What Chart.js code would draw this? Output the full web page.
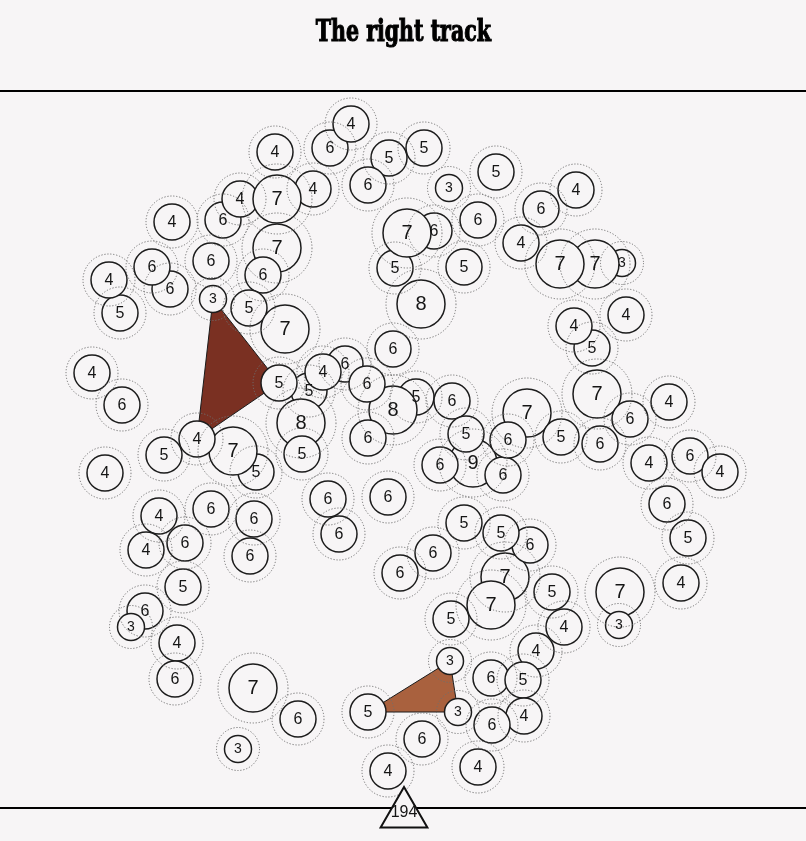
<!DOCTYPE html>
<html><head><meta charset="utf-8">
<script src="https://cdn.jsdelivr.net/npm/chart.js@4"></script>
<style>
html,body{margin:0;padding:0;background:#f7f5f6;}
#wrap{position:relative;width:806px;height:841px;overflow:hidden;}
#c{position:absolute;left:0;top:0;}
#title{position:absolute;left:0;top:17px;width:806px;text-align:center;line-height:29px;}
#t{display:inline-block;font-family:"DejaVu Serif Condensed","DejaVu Serif",serif;font-stretch:condensed;font-weight:bold;font-size:29px;color:#000;-webkit-text-stroke:1.1px #000;transform-origin:50% 50%;white-space:nowrap;}
</style></head><body>
<div id="wrap"><canvas id="c" width="806" height="841"></canvas><div id="title"><span id="t">The right track</span></div></div>
<script>
// ---- data (drawing order: later points sit on top) ----
const pointX = [330,351,275,389,424,368,449,496,576,541,478,313,223,240,277,172,277,211,263,170,152,120,109,213,249,285,434,395,407,464,521,622,595,560,421,626,592,574,393,92,122,309,345,323,279,416,393,367,368,301,302,256,233,164,197,105,452,473,466,440,503,527,508,561,597,630,600,669,649,690,720,667,688,681,328,339,388,159,146,185,211,254,250,464,505,530,501,400,433,451,491,552,536,564,620,619,183,145,131,177,175,253,298,238,450,491,523,368,458,524,492,422,388,478];
const pointY = [148,124,152,158,148,185,188,172,190,209,220,189,220,199,199,222,248,261,275,289,267,313,280,299,308,329,231,268,233,267,243,263,264,264,304,315,348,326,349,373,405,391,364,372,383,397,410,384,438,423,454,472,451,455,439,473,401,463,434,465,475,413,440,437,394,419,444,402,463,456,472,504,538,583,499,534,497,516,550,543,509,519,556,523,577,545,533,573,553,619,605,592,651,627,592,625,587,611,627,643,679,688,719,749,661,678,680,712,712,716,725,739,771,767];
const pointValue = [6,4,4,5,5,6,3,5,4,6,6,4,6,4,7,4,7,6,6,6,6,5,4,3,5,7,6,5,7,5,4,3,7,7,8,4,5,4,6,4,6,5,6,4,5,5,8,6,6,8,5,5,7,5,4,4,6,9,5,6,6,7,6,5,7,6,6,4,4,6,4,6,5,4,6,6,6,4,4,6,6,6,6,5,7,6,5,6,6,5,7,5,4,4,7,3,5,6,3,4,6,7,6,3,3,6,5,5,3,4,6,6,4,4];
const trackDarkX = [213,279,197];
const trackDarkY = [299,383,439];
const trackLightX = [368,450,458];
const trackLightY = [712,661,712];
const totalLabel = '194';
const totalX = 404;
const totalY = 814;
const ruleValues = [91, 808];

// ---- styles ----
const BG = '#f7f5f6';
const radiusByValue = {3:13.5,4:18,5:18,6:18,7:24,8:24,9:24};
const ringByValue = {3:21.5,4:26,5:26,6:26,7:35,8:35,9:34};
const fontByValue = {3:14,4:16,5:16,6:16,7:20,8:20,9:20};

const circles = pointX.map((x,i)=>({x, y: pointY[i], r: radiusByValue[pointValue[i]]}));
const rings = pointX.map((x,i)=>({x, y: pointY[i], r: ringByValue[pointValue[i]]}));
const closed = (xs, ys) => xs.concat(xs[0]).map((x,i)=>({x, y: ys.concat(ys[0])[i]}));

const MARK = 0, RING = 1, CIRC = 2;

const deco = {
  id: 'deco',
  beforeDatasetsDraw(chart) {
    const {ctx, scales} = chart;
    ctx.save();
    ctx.strokeStyle = '#000';
    ctx.lineWidth = 2;
    ruleValues.forEach(v => {
      const py = scales.y.getPixelForValue(v);
      ctx.beginPath(); ctx.moveTo(scales.x.getPixelForValue(0), py); ctx.lineTo(scales.x.getPixelForValue(806), py); ctx.stroke();
    });
    ctx.restore();
  },
  beforeDatasetDraw(chart, args) { if (args.index === RING) chart.ctx.setLineDash([1.2, 1.8]); },
  afterDatasetDraw(chart, args) { if (args.index === RING) chart.ctx.setLineDash([]); },
  afterDatasetsDraw(chart) {
    const ctx = chart.ctx;
    ctx.save();
    ctx.fillStyle = '#151515';
    ctx.textAlign = 'center';
    ctx.textBaseline = 'middle';
    chart.getDatasetMeta(CIRC).data.forEach((el, i) => {
      const v = pointValue[i];
      ctx.font = fontByValue[v] + 'px "Liberation Sans", Arial, sans-serif';
      ctx.fillText(String(v), el.x, el.y + 0.5);
    });
    const m = chart.getDatasetMeta(MARK).data[0];
    ctx.font = '16px "Liberation Sans", Arial, sans-serif';
    ctx.fillText(totalLabel, m.x, m.y - 1);
    ctx.restore();
  }
};

new Chart(document.getElementById('c'), {
  type: 'bubble',
  data: {
    datasets: [
      { data: [{x: totalX, y: totalY, r: 27}], pointStyle: 'triangle', backgroundColor: BG, borderColor: '#111', borderWidth: 2 },
      { data: rings, backgroundColor: 'rgba(0,0,0,0)', borderColor: '#6f6f6f', borderWidth: 1 },
      { data: circles, backgroundColor: BG, borderColor: '#1c1c1c', borderWidth: 1.5 },
      { type: 'line', data: closed(trackDarkX, trackDarkY), fill: 'shape', backgroundColor: '#7a3022', borderColor: '#1a1a1a', borderWidth: 1, pointRadius: 0, tension: 0 },
      { type: 'line', data: closed(trackLightX, trackLightY), fill: 'shape', backgroundColor: '#a9613e', borderColor: '#1a1a1a', borderWidth: 1, pointRadius: 0, tension: 0 }
    ]
  },
  options: {
    responsive: false,
    animation: false,
    events: [],
    devicePixelRatio: 1,
    layout: { autoPadding: false, padding: { top: 91, left: 0, right: 0, bottom: 0 } },
    scales: {
      x: { type: 'linear', min: 0, max: 806, display: false },
      y: { type: 'linear', min: 91, max: 841, reverse: true, display: false }
    },
    plugins: { legend: { display: false }, tooltip: { enabled: false }, title: { display: false } }
  },
  plugins: [deco]
});

// fit title width to the reference
const t = document.getElementById('t');
const w = t.getBoundingClientRect().width;
if (w > 0) t.style.transform = 'scaleX(' + (175 / w).toFixed(3) + ')';
</script>
</body></html>
